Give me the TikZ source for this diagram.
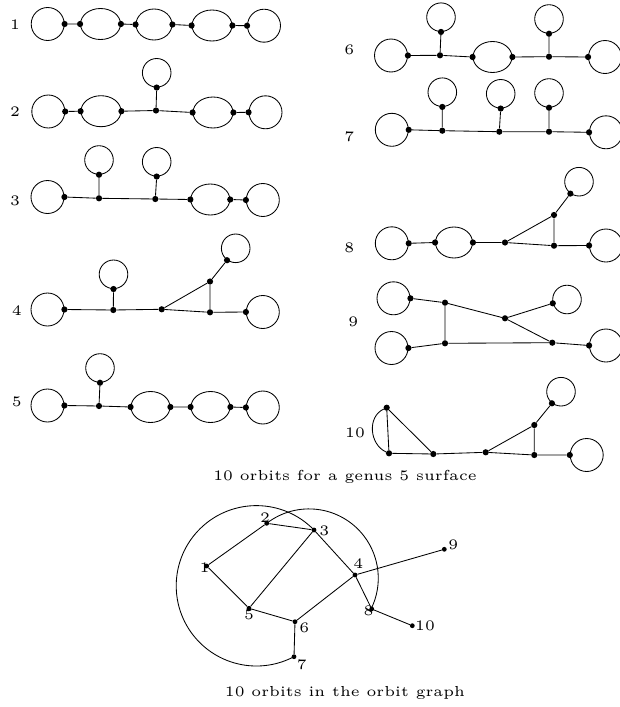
\documentclass[tikz,border=0pt]{standalone}
\usetikzlibrary{shapes.geometric}
\begin{document}
\begin{tikzpicture}[x=1pt,y=-1pt,
  ln/.style={line width=0.85pt},
  bigc/.style={draw, circle, line width=0.85pt, inner sep=0pt, minimum size=33pt},
  smc/.style={draw, circle, line width=0.85pt, inner sep=0pt, minimum size=28.6pt},
  ovl/.style={draw, ellipse, line width=0.85pt, inner sep=0pt, minimum width=#1, minimum height=31pt},
  ovl/.default=39pt,
  vdot/.style={circle, fill, inner sep=0pt, minimum size=6.2pt},
  gdot/.style={circle, fill, inner sep=0pt, minimum size=4.8pt},
  lbl/.style={font=\fontsize{5}{6}\selectfont, scale=2.9, inner sep=0pt}]
\useasboundingbox (0,0) rectangle (619,707);

% ---------- diagram 1
\node[lbl] (L1) at (15,25) {1};
\node[bigc] (A1) at (47.7,24) {};
\node[ovl=40pt] (A2) at (100.5,24) {};
\node[ovl=36pt] (A3) at (154,24.5) {};
\node[ovl=40pt] (A4) at (212,25.5) {};
\node[bigc] (A5) at (264,25.7) {};
\node[vdot] (a1) at (A1.east) {};
\node[vdot] (a2) at (A2.west) {};
\node[vdot] (a3) at (A2.east) {};
\node[vdot] (a4) at (A3.west) {};
\node[vdot] (a5) at (A3.east) {};
\node[vdot] (a6) at (A4.west) {};
\node[vdot] (a7) at (A4.east) {};
\node[vdot] (a8) at (A5.west) {};
\draw[ln] (a1) -- (a2) (a3) -- (a4) (a5) -- (a6) (a7) -- (a8);

% ---------- diagram 2
\node[lbl] (L2) at (15,111.7) {2};
\node[bigc] (B1) at (48.3,111.5) {};
\node[ovl=40pt] (B2) at (101,111.2) {};
\node[smc] (B3) at (156.7,72.8) {};
\node[ovl=40pt] (B4) at (213,112.5) {};
\node[bigc] (B5) at (265.5,112.3) {};
\node[vdot] (b1) at (B1.east) {};
\node[vdot] (b2) at (B2.west) {};
\node[vdot] (b3) at (B2.east) {};
\node[vdot] (bj) at (156,110.5) {};
\node[vdot] (bt) at (B3.south) {};
\node[vdot] (b4) at (B4.west) {};
\node[vdot] (b5) at (B4.east) {};
\node[vdot] (b6) at (B5.west) {};
\draw[ln] (b1) -- (b2) (b3) -- (bj) (bj) -- (bt) (bj) -- (b4) (b5) -- (b6);

% ---------- diagram 3
\node[lbl] (L3) at (15,200.7) {3};
\node[bigc] (C1) at (47.5,197) {};
\node[smc] (C2) at (99,160) {};
\node[smc] (C3) at (156.7,161.8) {};
\node[ovl] (C4) at (210.3,199.5) {};
\node[bigc] (C5) at (262.8,200) {};
\node[vdot] (c1) at (C1.east) {};
\node[vdot] (cj1) at (99,198.3) {};
\node[vdot] (ct1) at (C2.south) {};
\node[vdot] (cj2) at (155.3,199) {};
\node[vdot] (ct2) at (C3.south) {};
\node[vdot] (c2) at (C4.west) {};
\node[vdot] (c3) at (C4.east) {};
\node[vdot] (c4) at (C5.west) {};
\draw[ln] (c1) -- (cj1) (cj1) -- (ct1) (cj1) -- (cj2) (cj2) -- (ct2) (cj2) -- (c2) (c3) -- (c4);

% ---------- diagram 4
\node[lbl] (L4) at (16.7,311) {4};
\node[bigc] (D1) at (47.5,309.5) {};
\node[smc] (D2) at (113.5,274.3) {};
\node[bigc] (D3) at (262.8,312) {};
\node[smc] (D4) at (235.7,248.3) {};
\node[vdot] (d1) at (D1.east) {};
\node[vdot] (dj1) at (113.3,310) {};
\node[vdot] (dt1) at (D2.south) {};
\node[vdot] (dm) at (161.7,309.3) {};
\node[vdot] (dt) at (210,281.5) {};
\node[vdot] (dj2) at (210,312.3) {};
\node[vdot] (d2) at (D3.west) {};
\node[vdot] (d3) at (D4.234) {};
\draw[ln] (d1) -- (dj1) (dj1) -- (dt1) (dj1) -- (dm) (dm) -- (dj2) (dm) -- (dt) (dt) -- (dj2) (dj2) -- (d2) (dt) -- (d3);

% ---------- diagram 5
\node[lbl] (L5) at (16.7,402.3) {5};
\node[bigc] (E1) at (47.5,405.5) {};
\node[smc] (E2) at (100,368) {};
\node[ovl] (E3) at (150.5,407) {};
\node[ovl] (E4) at (210.5,407) {};
\node[bigc] (E5) at (262.8,407.5) {};
\node[vdot] (e1) at (E1.east) {};
\node[vdot] (ej) at (99,406) {};
\node[vdot] (et) at (E2.south) {};
\node[vdot] (e2) at (E3.west) {};
\node[vdot] (e3) at (E3.east) {};
\node[vdot] (e4) at (E4.west) {};
\node[vdot] (e5) at (E4.east) {};
\node[vdot] (e6) at (E5.west) {};
\draw[ln] (e1) -- (ej) (ej) -- (et) (ej) -- (e2) (e3) -- (e4) (e5) -- (e6);

% ---------- diagram 6
\node[lbl] (L6) at (349.3,50) {6};
\node[bigc] (F1) at (391,55.5) {};
\node[smc] (F2) at (441,17.2) {};
\node[ovl] (F3) at (492.5,57) {};
\node[smc] (F4) at (549,19) {};
\node[bigc] (F5) at (605,57) {};
\node[vdot] (f1) at (F1.east) {};
\node[vdot] (fj1) at (440,55.3) {};
\node[vdot] (ft1) at (F2.south) {};
\node[vdot] (f2) at (F3.west) {};
\node[vdot] (f3) at (F3.east) {};
\node[vdot] (fj2) at (549,56.7) {};
\node[vdot] (ft2) at (F4.south) {};
\node[vdot] (f4) at (F5.west) {};
\draw[ln] (f1) -- (fj1) (fj1) -- (ft1) (fj1) -- (f2) (f3) -- (fj2) (fj2) -- (ft2) (fj2) -- (f4);

% ---------- diagram 7
\node[lbl] (L7) at (349.3,136.7) {7};
\node[bigc] (G1) at (391.8,129.8) {};
\node[smc] (G2) at (442.3,92.2) {};
\node[smc] (G3) at (500.7,93.8) {};
\node[smc] (G4) at (549,93) {};
\node[bigc] (G5) at (606,132.3) {};
\node[vdot] (g1) at (G1.east) {};
\node[vdot] (gj1) at (442.3,130.7) {};
\node[vdot] (gt1) at (G2.south) {};
\node[vdot] (gj2) at (499.3,131.7) {};
\node[vdot] (gt2) at (G3.south) {};
\node[vdot] (gj3) at (549,131.7) {};
\node[vdot] (gt3) at (G4.south) {};
\node[vdot] (g2) at (G5.west) {};
\draw[ln] (g1) -- (gj1) (gj1) -- (gj2) (gj2) -- (gj3) (gj3) -- (g2)
  (gj1) -- (gt1) (gj2) -- (gt2) (gj3) -- (gt3);

% ---------- diagram 8
\node[lbl] (L8) at (349.3,248.3) {8};
\node[bigc] (H1) at (391.8,243.3) {};
\node[ovl=37pt] (H2) at (454,242.5) {};
\node[bigc] (H3) at (606,245.5) {};
\node[smc] (H4) at (579,181.7) {};
\node[vdot] (h1) at (H1.east) {};
\node[vdot] (h2) at (H2.west) {};
\node[vdot] (h3) at (H2.east) {};
\node[vdot] (hm) at (505,242.5) {};
\node[vdot] (ht) at (554,215) {};
\node[vdot] (hj) at (554,245.7) {};
\node[vdot] (h4) at (H3.west) {};
\node[vdot] (h5) at (H4.234) {};
\draw[ln] (h1) -- (h2) (h3) -- (hm) (hm) -- (ht) (hm) -- (hj) (ht) -- (hj) (hj) -- (h4) (ht) -- (h5);

% ---------- diagram 9
\node[lbl] (L9) at (353.3,321.7) {9};
\node[bigc] (I1) at (393.5,298.3) {};
\node[bigc] (I2) at (391.5,348) {};
\node[smc] (I3) at (567,299.5) {};
\node[bigc] (I4) at (606,345.5) {};
\node[vdot] (i1) at (I1.east) {};
\node[vdot] (i2) at (I2.east) {};
\node[vdot] (ip) at (445,302.7) {};
\node[vdot] (iq) at (445,343.3) {};
\node[vdot] (ir) at (505,318.3) {};
\node[vdot] (is) at (I3.195) {};
\node[vdot] (iu) at (552.3,342.7) {};
\node[vdot] (i4) at (I4.west) {};
\draw[ln] (i1) -- (ip) (ip) -- (iq) (i2) -- (iq) (ip) -- (ir) (ir) -- (is) (ir) -- (iu) (iq) -- (iu) (iu) -- (i4);

% ---------- diagram 10
\node[lbl] (L10) at (355,433) {10};
\node[smc] (J1) at (561,391.7) {};
\node[bigc] (J2) at (586.7,455) {};
\node[vdot] (ja) at (386.7,407.7) {};
\node[vdot] (jb) at (389,453.3) {};
\node[vdot] (jc) at (433.3,454) {};
\node[vdot] (jd) at (485.7,452.3) {};
\node[vdot] (jt) at (534.3,425) {};
\node[vdot] (jj) at (534.3,455) {};
\node[vdot] (js) at (J1.232) {};
\node[vdot] (je) at (J2.west) {};
\draw[ln] (ja) .. controls (367.1,416.6) and (369.4,444.4) .. (jb);
\draw[ln] (ja) -- (jb) (ja) -- (jc) (jb) -- (jc) (jc) -- (jd) (jd) -- (jt) (jd) -- (jj) (jt) -- (jj) (jt) -- (js) (jj) -- (je);

\node[lbl, anchor=base] (cap1) at (345,480.3) {10 orbits for a genus 5 surface};

% ---------- orbit graph
\node[gdot] (n1) at (206.7,566) {};
\node[gdot] (n2) at (266.7,523.3) {};
\node[gdot] (n3) at (314,530) {};
\node[gdot] (n4) at (355,575) {};
\node[gdot] (n5) at (249,608.3) {};
\node[gdot] (n6) at (295,621.7) {};
\node[gdot] (n7) at (294,656.7) {};
\node[gdot] (n8) at (371.7,609) {};
\node[gdot] (n9) at (444.3,549.3) {};
\node[gdot] (n10) at (412.3,625.7) {};
\draw[ln] (n1) -- (n2) (n2) -- (n3) (n1) -- (n5) (n5) -- (n3) (n3) -- (n4) (n5) -- (n6)
  (n6) -- (n4) (n4) -- (n9) (n4) -- (n8) (n8) -- (n10) (n6) -- (n7);
\draw[ln] (n3.center) arc[start angle=-44.1, end angle=-297.9, radius=80.2];
\draw[ln] (n2.center) arc[start angle=-127.6, end angle=26.2, radius=69.3];
\node[lbl] (m1) at (204.5,568) {1};
\node[lbl] (m2) at (265,517.3) {2};
\node[lbl] (m3) at (324.3,530.7) {3};
\node[lbl] (m4) at (358.3,564) {4};
\node[lbl] (m5) at (249,615) {5};
\node[lbl] (m6) at (304.3,627.7) {6};
\node[lbl] (m7) at (301.7,664.3) {7};
\node[lbl] (m8) at (368.5,611) {8};
\node[lbl] (m9) at (453.3,545) {9};
\node[lbl] (m10) at (425,625.7) {10};

\node[lbl, anchor=base] (cap2) at (345,696.7) {10 orbits in the orbit graph};
\end{tikzpicture}
\end{document}
